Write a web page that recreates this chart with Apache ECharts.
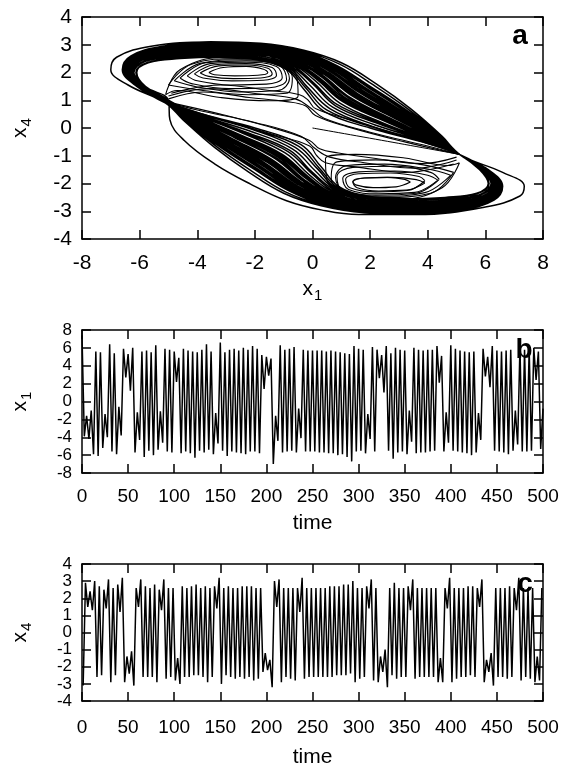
<!DOCTYPE html>
<html>
<head>
<meta charset="utf-8">
<script src="https://cdn.jsdelivr.net/npm/echarts@6/dist/echarts.min.js"></script>
<style>
  html, body { margin: 0; background: #fff; }
  #chart { width: 563px; height: 769px; }
</style>
</head>
<body>
<div id="chart"></div>
<script>
// ---- time series b / c: successive extrema ----
const sampleStep = 2.5          // time between successive extrema
const x4Offset = 1.25           // x4 extrema sit between the x1 extrema

const x1Extrema = [
  7.4, -3.9, -1.6, -4.2, -1.0, -5.9, 5.6, -6.1, 5.5, -5.2,
  -1.4, -4.0, 6.4, -5.6, 5.4, -5.9, -0.6, -3.8, 5.9, 2.7,
  5.3, 1.2, 6.0, -5.7, -1.2, -4.3, 5.6, -6.2, 5.7, -5.5,
  5.5, -6.0, 6.3, -5.4, -1.1, -4.6, 5.9, -5.6, 5.8, -5.7,
  5.6, 2.2, 4.9, -5.8, 5.9, -5.6, 5.7, -5.8, 5.6, -6.3,
  5.5, -5.5, 5.8, -5.7, 6.4, -5.4, 5.6, -5.9, -1.3, -4.7,
  6.6, -5.5, 5.5, -6.1, 5.8, -5.6, 5.9, -5.7, 5.7, -5.8,
  6.0, -5.9, 5.8, -5.6, 6.2, -5.6, 5.9, -5.8, 5.2, 1.4,
  5.0, 2.9, 4.8, -7.0, -1.6, -4.4, 6.3, -5.7, 5.8, -5.6,
  5.9, -5.5, 6.1, -5.7, -0.8, -4.1, 5.8, -5.6, 5.7, -5.6,
  5.7, -5.6, 5.7, -5.7, 5.7, -5.7, 5.6, -5.8, 5.7, -5.8,
  5.6, -6.0, 5.5, -5.9, 5.4, -6.2, 5.3, -6.7, 6.2, -5.6,
  5.9, -5.5, 5.8, -5.8, -1.4, -4.2, 6.1, -5.6, 5.8, 2.6,
  5.2, 1.0, 6.2, -5.5, 5.4, -6.4, 6.0, -5.7, 5.8, -5.6,
  5.7, -5.9, -1.0, -4.5, 6.0, -5.8, 5.8, -5.7, 5.7, -5.7,
  5.8, -5.6, 5.8, -5.5, 6.2, 2.1, 5.1, -5.6, -1.2, -4.6,
  6.3, -5.5, 5.9, -5.6, 5.7, -5.7, 5.6, -5.8, 5.5, -6.0,
  5.6, -5.7, -1.3, -4.3, 5.9, 2.8, 5.0, 1.6, 6.2, -5.5,
  5.7, -5.6, 5.6, -5.7, 5.7, -5.9, 5.8, -5.5, -1.0, -4.8,
  6.1, -5.6, 5.8, -5.6, 5.9, -5.5, 6.0, 2.4, 5.6, -5.3,
  -0.8
]

const x4Extrema = [
  -3.1, 2.9, 1.5, 2.4, 1.3, 3.0, -2.6, 2.7, -2.5, 2.5,
  1.4, 3.1, -2.9, 2.6, -2.5, 2.8, 1.2, 3.2, -2.9, -1.4,
  -2.4, -1.1, -3.1, 2.6, 1.5, 3.1, -2.6, 2.7, -2.6, 2.6,
  -2.6, 2.8, -2.9, 2.5, 1.3, 3.1, -2.7, 2.6, -2.6, 2.6,
  -2.8, -1.5, -3.0, 2.7, -2.6, 2.6, -2.6, 2.7, -2.5, 2.8,
  -2.5, 2.6, -2.6, 2.7, -2.9, 2.6, -2.6, 2.7, 1.4, 3.2,
  -3.0, 2.6, -2.5, 2.7, -2.6, 2.6, -2.7, 2.6, -2.6, 2.7,
  -2.7, 2.7, -2.6, 2.7, -2.8, 2.6, -2.7, 2.6, -2.3, -1.2,
  -2.2, -1.6, -3.2, 3.0, 1.5, 3.1, -2.9, 2.6, -2.6, 2.6,
  -2.7, 2.6, -2.8, 2.6, 1.2, 3.2, -2.7, 2.6, -2.6, 2.6,
  -2.6, 2.6, -2.6, 2.6, -2.6, 2.6, -2.6, 2.7, -2.6, 2.7,
  -2.5, 2.7, -2.5, 2.8, -2.5, 2.8, -2.4, 3.0, -2.9, 2.6,
  -2.7, 2.6, -2.6, 2.7, 1.4, 3.1, -2.8, 2.6, -2.9, -1.4,
  -2.3, -1.0, -3.2, 2.6, -2.5, 2.9, -2.7, 2.6, -2.6, 2.6,
  -2.6, 2.7, 1.3, 3.1, -2.7, 2.6, -2.6, 2.6, -2.6, 2.6,
  -2.6, 2.6, -2.6, 2.6, -2.9, -1.5, -2.9, 2.6, 1.4, 3.2,
  -2.9, 2.6, -2.7, 2.6, -2.6, 2.6, -2.6, 2.7, -2.5, 2.7,
  -2.6, 2.6, 1.5, 3.1, -2.9, -1.6, -2.3, -1.2, -3.1, 2.6,
  -2.6, 2.6, -2.6, 2.6, -2.7, 2.7, -2.6, 2.6, 1.3, 3.2,
  -2.8, 2.6, -2.6, 2.6, -2.7, 2.6, -2.9, -1.4, -2.8, 2.6
]

// ---- phase portrait a: traced arcs [x1, x4] ----
// upper arcs: left pinch -> left tip -> top band -> right pinch
const upperArcs = [
  [[-5.0,1.0],[-5.8,1.5],[-6.1,2.0],[-5.7,2.35],[-4.6,2.5],[-3.2,2.55],[-1.9,2.45],[-0.9,2.1],[-0.3,1.4],[0.4,0.6],[2.0,0.0],[3.8,-0.5],[5.1,-0.95]],
  [[-5.0,1.0],[-5.8,1.5],[-6.2,2.0],[-5.8,2.4],[-4.7,2.55],[-3.2,2.6],[-1.9,2.5],[-0.8,2.15],[-0.2,1.5],[0.6,0.7],[2.1,0.05],[3.9,-0.5],[5.1,-0.95]],
  [[-5.0,1.0],[-5.85,1.5],[-6.2,2.0],[-5.8,2.4],[-4.7,2.6],[-3.25,2.65],[-1.9,2.55],[-0.8,2.2],[-0.1,1.55],[0.7,0.75],[2.2,0.1],[3.9,-0.45],[5.1,-0.95]],
  [[-5.0,1.0],[-5.9,1.5],[-6.2,2.0],[-5.8,2.4],[-4.7,2.6],[-3.3,2.65],[-1.9,2.55],[-0.8,2.25],[0.0,1.6],[0.8,0.8],[2.3,0.15],[3.95,-0.45],[5.1,-0.95]],
  [[-5.05,0.95],[-5.9,1.5],[-6.25,2.05],[-5.9,2.45],[-4.8,2.65],[-3.3,2.7],[-1.85,2.65],[-0.7,2.3],[0.1,1.7],[0.95,0.9],[2.4,0.2],[4.0,-0.45],[5.1,-0.95]],
  [[-5.05,0.95],[-5.9,1.5],[-6.3,2.05],[-5.9,2.45],[-4.8,2.65],[-3.3,2.75],[-1.85,2.65],[-0.7,2.35],[0.15,1.75],[1.05,0.95],[2.5,0.25],[4.05,-0.45],[5.1,-0.95]],
  [[-5.05,0.95],[-5.9,1.5],[-6.3,2.05],[-5.95,2.45],[-4.85,2.7],[-3.3,2.8],[-1.85,2.7],[-0.65,2.4],[0.2,1.8],[1.1,1.0],[2.55,0.3],[4.1,-0.4],[5.1,-0.95]],
  [[-5.05,0.95],[-5.95,1.5],[-6.35,2.05],[-6.0,2.45],[-4.85,2.7],[-3.35,2.8],[-1.85,2.7],[-0.6,2.4],[0.3,1.85],[1.2,1.05],[2.65,0.3],[4.1,-0.4],[5.1,-0.95]],
  [[-5.05,0.95],[-5.95,1.5],[-6.35,2.05],[-6.0,2.5],[-4.9,2.75],[-3.35,2.85],[-1.85,2.75],[-0.6,2.45],[0.35,1.9],[1.3,1.1],[2.7,0.35],[4.15,-0.4],[5.1,-0.95]],
  [[-5.05,0.95],[-6.0,1.5],[-6.4,2.05],[-6.05,2.5],[-4.95,2.75],[-3.4,2.9],[-1.85,2.8],[-0.55,2.5],[0.5,1.95],[1.5,1.2],[2.85,0.4],[4.2,-0.4],[5.1,-0.95]],
  [[-5.1,0.9],[-6.0,1.5],[-6.45,2.05],[-6.1,2.5],[-5.0,2.8],[-3.4,2.9],[-1.85,2.85],[-0.5,2.55],[0.55,2.0],[1.55,1.25],[2.9,0.45],[4.25,-0.35],[5.1,-0.95]],
  [[-5.1,0.9],[-6.0,1.5],[-6.45,2.05],[-6.1,2.55],[-5.0,2.8],[-3.4,2.95],[-1.85,2.85],[-0.5,2.6],[0.6,2.05],[1.65,1.3],[3.0,0.5],[4.3,-0.35],[5.1,-0.95]],
  [[-5.1,0.9],[-6.05,1.5],[-6.5,2.1],[-6.2,2.55],[-5.1,2.85],[-3.45,3.0],[-1.8,2.95],[-0.4,2.65],[0.75,2.15],[1.85,1.4],[3.1,0.55],[4.35,-0.35],[5.1,-0.95]],
  [[-5.1,0.9],[-6.05,1.5],[-6.55,2.1],[-6.2,2.55],[-5.1,2.9],[-3.45,3.0],[-1.8,2.95],[-0.4,2.7],[0.8,2.2],[1.95,1.45],[3.2,0.6],[4.4,-0.35],[5.1,-0.95]],
  [[-5.1,0.9],[-6.05,1.5],[-6.55,2.1],[-6.25,2.6],[-5.15,2.9],[-3.45,3.05],[-1.8,3.0],[-0.35,2.75],[0.85,2.25],[2.0,1.5],[3.25,0.65],[4.45,-0.3],[5.1,-0.95]],
  [[-5.1,0.9],[-6.1,1.5],[-6.6,2.1],[-6.3,2.6],[-5.2,2.95],[-3.5,3.1],[-1.8,3.05],[-0.3,2.8],[1.0,2.35],[2.2,1.6],[3.4,0.7],[4.5,-0.3],[5.1,-0.95]],
  [[-5.1,0.9],[-6.4,1.55],[-7.0,2.1],[-6.8,2.55],[-5.6,2.95],[-3.6,3.1],[-1.8,3.05],[-0.3,2.8],[1.0,2.35],[2.2,1.6],[3.4,0.7],[4.5,-0.3],[5.1,-0.95]],
  [[-5.0,1.0],[-5.82,1.5],[-6.13,2.0],[-5.73,2.36],[-4.63,2.52],[-3.22,2.58],[-1.9,2.48],[-0.87,2.14],[-0.24,1.45],[0.49,0.65],[2.07,0.04],[3.84,-0.49],[5.1,-0.95]],
  [[-5.03,0.98],[-5.88,1.5],[-6.23,2.03],[-5.85,2.41],[-4.75,2.61],[-3.28,2.69],[-1.88,2.6],[-0.75,2.28],[0.03,1.64],[0.85,0.85],[2.35,0.18],[3.98,-0.45],[5.1,-0.95]],
  [[-5.04,0.96],[-5.91,1.5],[-6.29,2.04],[-5.93,2.45],[-4.83,2.67],[-3.31,2.76],[-1.86,2.68],[-0.67,2.37],[0.19,1.76],[1.08,0.98],[2.53,0.27],[4.07,-0.42],[5.1,-0.95]],
  [[-5.04,0.96],[-5.93,1.5],[-6.31,2.04],[-5.95,2.46],[-4.85,2.69],[-3.33,2.78],[-1.86,2.7],[-0.65,2.39],[0.25,1.8],[1.16,1.02],[2.59,0.29],[4.09,-0.42],[5.1,-0.95]],
  [[-5.05,0.95],[-5.94,1.5],[-6.34,2.05],[-5.99,2.47],[-4.89,2.72],[-3.34,2.81],[-1.85,2.74],[-0.61,2.44],[0.32,1.86],[1.26,1.08],[2.67,0.34],[4.14,-0.4],[5.1,-0.95]],
  [[-5.06,0.95],[-5.97,1.5],[-6.38,2.06],[-6.03,2.49],[-4.93,2.75],[-3.37,2.85],[-1.85,2.78],[-0.57,2.49],[0.42,1.92],[1.39,1.15],[2.77,0.39],[4.19,-0.39],[5.1,-0.95]],
  [[-5.06,0.94],[-5.97,1.5],[-6.39,2.06],[-6.05,2.5],[-4.95,2.76],[-3.37,2.87],[-1.84,2.8],[-0.55,2.51],[0.45,1.95],[1.44,1.18],[2.81,0.41],[4.21,-0.38],[5.1,-0.95]],
  [[-5.06,0.94],[-5.99,1.5],[-6.41,2.06],[-6.07,2.51],[-4.97,2.78],[-3.39,2.89],[-1.84,2.82],[-0.53,2.53],[0.51,1.99],[1.52,1.22],[2.87,0.43],[4.23,-0.38],[5.1,-0.95]],
  [[-5.07,0.93],[-6.0,1.5],[-6.44,2.07],[-6.11,2.52],[-5.01,2.81],[-3.4,2.92],[-1.83,2.86],[-0.49,2.58],[0.58,2.05],[1.62,1.28],[2.95,0.48],[4.28,-0.36],[5.1,-0.95]],
  [[-5.07,0.93],[-6.02,1.5],[-6.46,2.07],[-6.13,2.53],[-5.03,2.82],[-3.42,2.95],[-1.83,2.88],[-0.47,2.6],[0.64,2.08],[1.7,1.32],[3.01,0.5],[4.3,-0.36],[5.1,-0.95]],
  [[-5.08,0.93],[-6.03,1.5],[-6.48,2.08],[-6.15,2.54],[-5.05,2.84],[-3.43,2.96],[-1.83,2.9],[-0.45,2.63],[0.68,2.11],[1.75,1.35],[3.05,0.53],[4.33,-0.35],[5.1,-0.95]],
  [[-5.08,0.92],[-6.03,1.5],[-6.49,2.08],[-6.17,2.55],[-5.07,2.85],[-3.43,2.98],[-1.82,2.92],[-0.43,2.65],[0.71,2.14],[1.8,1.38],[3.09,0.55],[4.35,-0.34],[5.1,-0.95]],
  [[-5.08,0.92],[-6.05,1.5],[-6.51,2.08],[-6.19,2.56],[-5.09,2.87],[-3.45,3.0],[-1.82,2.94],[-0.41,2.67],[0.77,2.18],[1.88,1.42],[3.15,0.57],[4.37,-0.34],[5.1,-0.95]],
  [[-5.09,0.91],[-6.06,1.5],[-6.54,2.09],[-6.23,2.57],[-5.13,2.9],[-3.46,3.03],[-1.81,2.98],[-0.37,2.72],[0.84,2.24],[1.98,1.48],[3.23,0.62],[4.42,-0.32],[5.1,-0.95]],
  [[-5.1,0.9],[-6.09,1.5],[-6.58,2.1],[-6.27,2.59],[-5.17,2.93],[-3.49,3.07],[-1.81,3.02],[-0.33,2.77],[0.94,2.3],[2.11,1.55],[3.33,0.67],[4.47,-0.31],[5.1,-0.95]]
]
// lower arcs: right pinch -> right tip -> bottom band -> back toward left pinch
const lowerArcs = [
  [[5.8,-1.5],[6.1,-2.0],[5.7,-2.35],[4.6,-2.5],[3.2,-2.55],[1.9,-2.45],[0.9,-2.1],[0.3,-1.4],[-0.4,-0.6],[-2.0,0.0],[-3.8,0.5]],
  [[5.8,-1.5],[6.2,-2.0],[5.8,-2.4],[4.7,-2.55],[3.2,-2.6],[1.9,-2.5],[0.8,-2.15],[0.2,-1.5],[-0.6,-0.7],[-2.1,-0.05],[-3.9,0.5]],
  [[5.85,-1.5],[6.2,-2.0],[5.8,-2.4],[4.7,-2.6],[3.25,-2.65],[1.9,-2.55],[0.8,-2.2],[0.1,-1.55],[-0.7,-0.75],[-2.2,-0.1],[-3.9,0.45]],
  [[5.9,-1.5],[6.2,-2.0],[5.8,-2.4],[4.7,-2.6],[3.3,-2.65],[1.9,-2.55],[0.8,-2.25],[0.0,-1.6],[-0.8,-0.8],[-2.3,-0.15],[-3.95,0.45]],
  [[5.9,-1.5],[6.25,-2.05],[5.9,-2.45],[4.8,-2.65],[3.3,-2.7],[1.85,-2.65],[0.7,-2.3],[-0.1,-1.7],[-0.95,-0.9],[-2.4,-0.2],[-4.0,0.45]],
  [[5.9,-1.5],[6.3,-2.05],[5.9,-2.45],[4.8,-2.65],[3.3,-2.75],[1.85,-2.65],[0.7,-2.35],[-0.15,-1.75],[-1.05,-0.95],[-2.5,-0.25],[-4.05,0.45]],
  [[5.9,-1.5],[6.3,-2.05],[5.95,-2.45],[4.85,-2.7],[3.3,-2.8],[1.85,-2.7],[0.65,-2.4],[-0.2,-1.8],[-1.1,-1.0],[-2.55,-0.3],[-4.1,0.4]],
  [[5.95,-1.5],[6.35,-2.05],[6.0,-2.45],[4.85,-2.7],[3.35,-2.8],[1.85,-2.7],[0.6,-2.4],[-0.3,-1.85],[-1.2,-1.05],[-2.65,-0.3],[-4.1,0.4]],
  [[5.95,-1.5],[6.35,-2.05],[6.0,-2.5],[4.9,-2.75],[3.35,-2.85],[1.85,-2.75],[0.6,-2.45],[-0.35,-1.9],[-1.3,-1.1],[-2.7,-0.35],[-4.15,0.4]],
  [[6.0,-1.5],[6.4,-2.05],[6.05,-2.5],[4.95,-2.75],[3.4,-2.9],[1.85,-2.8],[0.55,-2.5],[-0.5,-1.95],[-1.5,-1.2],[-2.85,-0.4],[-4.2,0.4]],
  [[6.0,-1.5],[6.45,-2.05],[6.1,-2.5],[5.0,-2.8],[3.4,-2.9],[1.85,-2.85],[0.5,-2.55],[-0.55,-2.0],[-1.55,-1.25],[-2.9,-0.45],[-4.25,0.35]],
  [[6.0,-1.5],[6.45,-2.05],[6.1,-2.55],[5.0,-2.8],[3.4,-2.95],[1.85,-2.85],[0.5,-2.6],[-0.6,-2.05],[-1.65,-1.3],[-3.0,-0.5],[-4.3,0.35]],
  [[6.05,-1.5],[6.5,-2.1],[6.2,-2.55],[5.1,-2.85],[3.45,-3.0],[1.8,-2.95],[0.4,-2.65],[-0.75,-2.15],[-1.85,-1.4],[-3.1,-0.55],[-4.35,0.35]],
  [[6.05,-1.5],[6.55,-2.1],[6.2,-2.55],[5.1,-2.9],[3.45,-3.0],[1.8,-2.95],[0.4,-2.7],[-0.8,-2.2],[-1.95,-1.45],[-3.2,-0.6],[-4.4,0.35]],
  [[6.05,-1.5],[6.55,-2.1],[6.25,-2.6],[5.15,-2.9],[3.45,-3.05],[1.8,-3.0],[0.35,-2.75],[-0.85,-2.25],[-2.0,-1.5],[-3.25,-0.65],[-4.45,0.3]],
  [[6.1,-1.5],[6.6,-2.1],[6.3,-2.6],[5.2,-2.95],[3.5,-3.1],[1.8,-3.05],[0.3,-2.8],[-1.0,-2.35],[-2.2,-1.6],[-3.4,-0.7],[-4.5,0.3]],
  [[6.6,-1.6],[7.35,-2.1],[7.2,-2.45],[6.0,-2.85],[3.6,-3.12],[1.6,-3.12],[0.3,-2.95],[-0.9,-2.62],[-2.15,-2.02],[-3.4,-1.29],[-4.45,-0.45],[-4.95,0.3]],
  [[5.82,-1.5],[6.13,-2.0],[5.73,-2.36],[4.63,-2.52],[3.22,-2.58],[1.9,-2.48],[0.87,-2.14],[0.24,-1.45],[-0.49,-0.65],[-2.07,-0.04],[-3.84,0.49]],
  [[5.88,-1.5],[6.23,-2.03],[5.85,-2.41],[4.75,-2.61],[3.28,-2.69],[1.88,-2.6],[0.75,-2.28],[-0.03,-1.64],[-0.85,-0.85],[-2.35,-0.18],[-3.98,0.45]],
  [[5.91,-1.5],[6.29,-2.04],[5.93,-2.45],[4.83,-2.67],[3.31,-2.76],[1.86,-2.68],[0.67,-2.37],[-0.19,-1.76],[-1.08,-0.98],[-2.53,-0.27],[-4.07,0.42]],
  [[5.93,-1.5],[6.31,-2.04],[5.95,-2.46],[4.85,-2.69],[3.33,-2.78],[1.86,-2.7],[0.65,-2.39],[-0.25,-1.8],[-1.16,-1.02],[-2.59,-0.29],[-4.09,0.42]],
  [[5.94,-1.5],[6.34,-2.05],[5.99,-2.47],[4.89,-2.72],[3.34,-2.81],[1.85,-2.74],[0.61,-2.44],[-0.32,-1.86],[-1.26,-1.08],[-2.67,-0.34],[-4.14,0.4]],
  [[5.97,-1.5],[6.38,-2.06],[6.03,-2.49],[4.93,-2.75],[3.37,-2.85],[1.85,-2.78],[0.57,-2.49],[-0.42,-1.92],[-1.39,-1.15],[-2.77,-0.39],[-4.19,0.39]],
  [[5.97,-1.5],[6.39,-2.06],[6.05,-2.5],[4.95,-2.76],[3.37,-2.87],[1.84,-2.8],[0.55,-2.51],[-0.45,-1.95],[-1.44,-1.18],[-2.81,-0.41],[-4.21,0.38]],
  [[5.99,-1.5],[6.41,-2.06],[6.07,-2.51],[4.97,-2.78],[3.39,-2.89],[1.84,-2.82],[0.53,-2.53],[-0.51,-1.99],[-1.52,-1.22],[-2.87,-0.43],[-4.23,0.38]],
  [[6.0,-1.5],[6.44,-2.07],[6.11,-2.52],[5.01,-2.81],[3.4,-2.92],[1.83,-2.86],[0.49,-2.58],[-0.58,-2.05],[-1.62,-1.28],[-2.95,-0.48],[-4.28,0.36]],
  [[6.02,-1.5],[6.46,-2.07],[6.13,-2.53],[5.03,-2.82],[3.42,-2.95],[1.83,-2.88],[0.47,-2.6],[-0.64,-2.08],[-1.7,-1.32],[-3.01,-0.5],[-4.3,0.36]],
  [[6.03,-1.5],[6.48,-2.08],[6.15,-2.54],[5.05,-2.84],[3.43,-2.96],[1.83,-2.9],[0.45,-2.63],[-0.68,-2.11],[-1.75,-1.35],[-3.05,-0.53],[-4.33,0.35]],
  [[6.03,-1.5],[6.49,-2.08],[6.17,-2.55],[5.07,-2.85],[3.43,-2.98],[1.82,-2.92],[0.43,-2.65],[-0.71,-2.14],[-1.8,-1.38],[-3.09,-0.55],[-4.35,0.34]],
  [[6.05,-1.5],[6.51,-2.08],[6.19,-2.56],[5.09,-2.87],[3.45,-3.0],[1.82,-2.94],[0.41,-2.67],[-0.77,-2.18],[-1.88,-1.42],[-3.15,-0.57],[-4.37,0.34]],
  [[6.06,-1.5],[6.54,-2.09],[6.23,-2.57],[5.13,-2.9],[3.46,-3.03],[1.81,-2.98],[0.37,-2.72],[-0.84,-2.24],[-1.98,-1.48],[-3.23,-0.62],[-4.42,0.32]],
  [[6.09,-1.5],[6.58,-2.1],[6.27,-2.59],[5.17,-2.93],[3.49,-3.07],[1.81,-3.02],[0.33,-2.77],[-0.94,-2.3],[-2.11,-1.55],[-3.33,-0.67],[-4.47,0.31]]
]
// order in which the arcs are joined into the trajectory [upper, lower]
const loopOrder = [
  [0, 8], [1, 14], [2, 5], [3, 11], [4, 0], [5, 13], [6, 3], [7, 10], [8, 1],
  [9, 7], [10, 12], [11, 4], [12, 9], [13, 2], [14, 6], [15, 15], [16, 16],
  [17, 27], [18, 22], [19, 30], [20, 24], [21, 18], [22, 29], [23, 20], [24, 31],
  [25, 17], [26, 25], [27, 19], [28, 28], [29, 21], [30, 26], [31, 23]
]
// spirals around the two lobes and the crossings through the centre
const lobeRings = [
  [[-3.6,2.0],[-3.1,2.18],[-2.3,2.22],[-1.7,2.12],[-1.55,2.0],[-1.9,1.9],[-2.7,1.88],[-3.4,1.92],[-3.6,2.0]],
  [[-3.9,1.98],[-3.25,2.24],[-2.3,2.27],[-1.55,2.15],[-1.4,1.95],[-1.8,1.8],[-2.75,1.78],[-3.6,1.86],[-3.9,1.98]],
  [[-4.1,1.95],[-3.4,2.28],[-2.3,2.32],[-1.4,2.18],[-1.25,1.9],[-1.7,1.72],[-2.8,1.7],[-3.8,1.8],[-4.1,1.95]],
  [[-4.35,1.88],[-3.55,2.32],[-2.3,2.37],[-1.25,2.22],[-1.05,1.82],[-1.6,1.58],[-2.85,1.55],[-4.0,1.7],[-4.35,1.88]],
  [[-4.6,1.8],[-3.7,2.35],[-2.3,2.42],[-1.15,2.25],[-0.9,1.75],[-1.5,1.45],[-2.9,1.42],[-4.2,1.6],[-4.6,1.8]],
  [[-4.8,1.7],[-3.9,2.33],[-2.45,2.46],[-1.15,2.3],[-0.8,1.78],[-1.2,1.35],[-2.5,1.3],[-4.0,1.48],[-4.8,1.7]],
  [[-5.0,1.55],[-4.2,2.3],[-2.6,2.5],[-1.2,2.35],[-0.7,1.8],[-0.9,1.25],[-2.2,1.2],[-3.8,1.35],[-5.0,1.55]],
  [[-5.1,1.2],[-4.6,2.1],[-3.0,2.55],[-1.3,2.45],[-0.55,1.85],[-0.5,1.15],[-1.5,0.98],[-3.2,1.1],[-4.7,1.35],[-5.1,1.2]],
  [[-5.0,1.05],[-3.8,1.3],[-2.2,1.1],[-0.9,0.95],[-0.25,0.8],[0.1,0.45],[1.2,0.05],[3.2,-0.5],[5.1,-0.95]],
  [[-5.0,1.15],[-3.6,1.42],[-1.8,1.22],[-0.6,1.05],[-0.1,0.75],[0.4,0.35],[2.0,-0.15],[4.0,-0.65],[5.1,-0.95]],
  [[-4.9,1.25],[-3.2,1.55],[-1.5,1.35],[-0.45,1.2],[-0.15,1.0],[0.1,0.7],[1.3,0.3],[3.5,-0.4],[5.1,-0.95]],
  [[3.4,-1.95],[2.9,-2.12],[2.1,-2.15],[1.5,-2.05],[1.4,-1.92],[1.8,-1.8],[2.6,-1.78],[3.2,-1.85],[3.4,-1.95]],
  [[3.9,-1.98],[3.25,-2.24],[2.3,-2.27],[1.55,-2.15],[1.4,-1.95],[1.8,-1.8],[2.75,-1.78],[3.6,-1.86],[3.9,-1.98]],
  [[3.9,-1.9],[3.3,-2.25],[2.2,-2.3],[1.3,-2.15],[1.15,-1.85],[1.6,-1.65],[2.7,-1.62],[3.7,-1.75],[3.9,-1.9]],
  [[4.35,-1.88],[3.55,-2.32],[2.3,-2.37],[1.25,-2.22],[1.05,-1.82],[1.6,-1.58],[2.85,-1.55],[4.0,-1.7],[4.35,-1.88]],
  [[4.4,-1.85],[3.6,-2.35],[2.2,-2.42],[1.05,-2.25],[0.85,-1.75],[1.4,-1.42],[2.9,-1.38],[4.1,-1.6],[4.4,-1.85]],
  [[4.8,-1.7],[3.9,-2.33],[2.45,-2.46],[1.15,-2.3],[0.8,-1.78],[1.2,-1.35],[2.5,-1.3],[4.0,-1.48],[4.8,-1.7]],
  [[4.9,-1.6],[4.1,-2.35],[2.5,-2.5],[1.1,-2.35],[0.65,-1.8],[0.85,-1.22],[2.2,-1.15],[3.8,-1.32],[4.9,-1.6]],
  [[5.1,-1.25],[4.5,-2.15],[2.9,-2.58],[1.2,-2.45],[0.5,-1.85],[0.45,-1.1],[1.5,-0.95],[3.2,-1.08],[4.7,-1.35],[5.1,-1.25]],
  [[5.0,-1.05],[3.8,-1.28],[2.2,-1.1],[0.9,-0.9],[0.25,-0.75],[-0.1,-0.45],[-1.2,-0.05],[-3.2,0.5],[-5.1,0.95]],
  [[5.0,-1.15],[3.6,-1.45],[1.8,-1.25],[0.6,-1.05],[0.1,-0.75],[-0.4,-0.3],[-2.0,0.2],[-4.0,0.65],[-5.1,0.95]],
  [[4.9,-1.3],[3.2,-1.6],[1.5,-1.4],[0.45,-1.25],[0.15,-1.0],[-0.1,-0.65],[-1.3,-0.25],[-3.5,0.4],[-5.1,0.95]]
]
// start of the run, from the origin to the right pinch
const transient = [[0.0, 0.0], [2.6, -0.48], [5.1, -0.95]]

const FONT = 'Liberation Sans'

const x1Series = x1Extrema.map((v, i) => [i * sampleStep, v])
const x4Series = x4Extrema.map((v, i) => [x4Offset + i * sampleStep, v])

const phaseTrack = []
loopOrder.forEach(([u, l]) => {
  phaseTrack.push(...upperArcs[u], ...lowerArcs[l])
})

const frame = { show: true, onZero: false, lineStyle: { color: '#000', width: 1.5 } }
const tick = { show: true, inside: true, length: 9, lineStyle: { color: '#000', width: 1.5 } }
const nameStyle = {
  color: '#000', fontSize: 21, fontFamily: FONT,
  rich: { sub: { color: '#000', fontSize: 15, fontFamily: FONT, padding: [12, 0, 0, 1] } }
}

function xPair(grid, min, max, interval, fontSize, margin, name, nameGap) {
  return [
    {
      gridIndex: grid, type: 'value', min, max, interval, position: 'bottom',
      axisLine: frame, axisTick: tick, splitLine: { show: false },
      axisLabel: { color: '#000', fontSize, fontFamily: FONT, margin },
      name, nameLocation: 'middle', nameGap, nameTextStyle: nameStyle
    },
    {
      gridIndex: grid, type: 'value', min, max, interval, position: 'top',
      axisLine: frame, axisTick: tick, splitLine: { show: false }, axisLabel: { show: false }
    }
  ]
}

function yPair(grid, min, max, interval, fontSize, name) {
  return [
    {
      gridIndex: grid, type: 'value', min, max, interval, position: 'left',
      axisLine: frame, axisTick: tick, splitLine: { show: false },
      axisLabel: { color: '#000', fontSize, fontFamily: FONT, margin: 10 },
      name, nameLocation: 'middle', nameGap: 48, nameRotate: 90, nameTextStyle: nameStyle
    },
    {
      gridIndex: grid, type: 'value', min, max, interval, position: 'right',
      axisLine: frame, axisTick: tick, splitLine: { show: false }, axisLabel: { show: false }
    }
  ]
}

function phaseLine(data, width) {
  return {
    type: 'line', xAxisIndex: 0, yAxisIndex: 0, data, smooth: 0.4,
    showSymbol: false, symbol: 'none', lineStyle: { color: '#000', width }, silent: true
  }
}

function timeLine(axis, data) {
  return {
    type: 'line', xAxisIndex: axis, yAxisIndex: axis, data,
    showSymbol: false, symbol: 'none', lineStyle: { color: '#000', width: 1.5 }, silent: true
  }
}

const chart = echarts.init(document.getElementById('chart'))

chart.setOption({
  animation: false,
  backgroundColor: '#fff',
  grid: [
    { left: 82, top: 17, width: 461, height: 222 },
    { left: 82, top: 330, width: 461, height: 143 },
    { left: 82, top: 564, width: 461, height: 142 }
  ],
  xAxis: [
    ...xPair(0, -8, 8, 2, 21, 14, 'x{sub|1}', 37),
    ...xPair(1, 0, 500, 50, 19, 14, 'time', 40),
    ...xPair(2, 0, 500, 50, 19, 17, 'time', 46)
  ],
  yAxis: [
    ...yPair(0, -4, 4, 1, 21, 'x{sub|4}'),
    ...yPair(1, -8, 8, 2, 17, 'x{sub|1}'),
    ...yPair(2, -4, 4, 1, 17, 'x{sub|4}')
  ],
  graphic: [
    { type: 'text', x: 520, y: 36, style: { text: 'a', font: 'bold 28px "Liberation Sans"', fill: '#000', align: 'center', verticalAlign: 'middle' } },
    { type: 'text', x: 524, y: 350, style: { text: 'b', font: 'bold 28px "Liberation Sans"', fill: '#000', align: 'center', verticalAlign: 'middle' } },
    { type: 'text', x: 525, y: 584, style: { text: 'c', font: 'bold 28px "Liberation Sans"', fill: '#000', align: 'center', verticalAlign: 'middle' } }
  ],
  series: [
    phaseLine(phaseTrack, 1.5),
    ...lobeRings.map(r => phaseLine(r, 1.1)),
    phaseLine(transient, 1),
    timeLine(2, x1Series),
    timeLine(4, x4Series)
  ]
})
</script>
</body>
</html>
